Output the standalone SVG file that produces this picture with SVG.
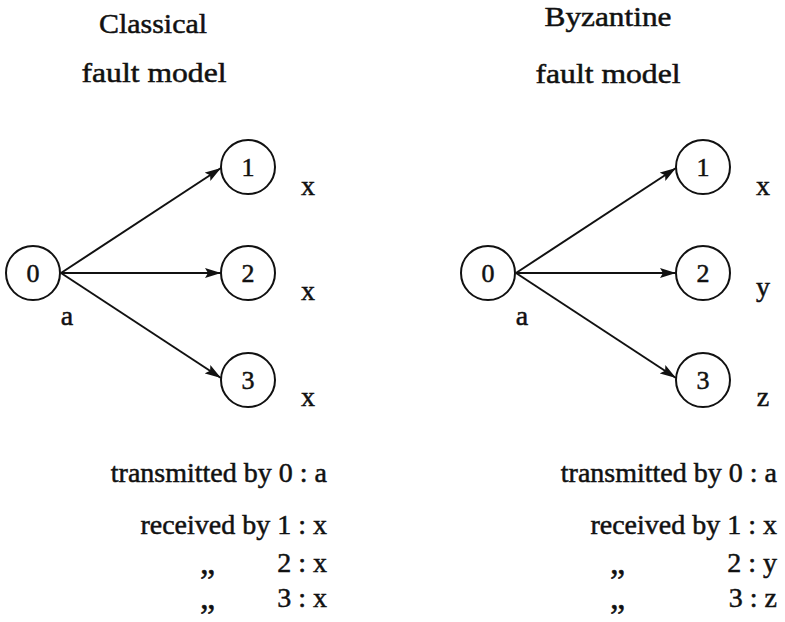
<svg xmlns="http://www.w3.org/2000/svg" width="785" height="622" viewBox="0 0 785 622">
<defs>
<style>
text{font-family:"Liberation Serif","DejaVu Serif",serif;font-size:28px;fill:#111;stroke:#111;stroke-width:0.5}
.t{text-anchor:middle}
.e{text-anchor:end}
.d{font-size:34px}
.n circle{fill:#fff;stroke:#111;stroke-width:2}
.n text{text-anchor:middle;font-size:26px}
.c line{stroke:#111;stroke-width:2}
</style>
<marker id="ah" viewBox="0 0 16 10" refX="16" refY="5" markerWidth="16" markerHeight="10" markerUnits="userSpaceOnUse" orient="auto">
<path d="M0,0 L16,5 L0,10 L3,5 Z" fill="#111"/>
</marker>
</defs>
<rect width="785" height="622" fill="#fff"/>

<g id="titles">
<text class="t" x="153" y="33" textLength="108" lengthAdjust="spacingAndGlyphs">Classical</text>
<text class="t" x="154" y="82" textLength="145" lengthAdjust="spacingAndGlyphs">fault model</text>
<text class="t" x="608" y="26" textLength="127" lengthAdjust="spacingAndGlyphs">Byzantine</text>
<text class="t" x="608" y="83" textLength="145" lengthAdjust="spacingAndGlyphs">fault model</text>
</g>

<g id="connectors" class="c">
<line x1="61" y1="273" x2="221" y2="168" marker-end="url(#ah)"/>
<line x1="61" y1="273" x2="221" y2="273" marker-end="url(#ah)"/>
<line x1="61" y1="273" x2="221" y2="378" marker-end="url(#ah)"/>
<line x1="516" y1="273" x2="676" y2="168" marker-end="url(#ah)"/>
<line x1="516" y1="273" x2="676" y2="273" marker-end="url(#ah)"/>
<line x1="516" y1="273" x2="676" y2="378" marker-end="url(#ah)"/>
</g>

<g id="L0" class="n"><circle cx="33" cy="273" r="27"/><text x="33" y="282">0</text></g>
<g id="L1" class="n"><circle cx="248" cy="167" r="27"/><text x="248" y="176">1</text></g>
<g id="L2" class="n"><circle cx="248" cy="273" r="27"/><text x="248" y="282">2</text></g>
<g id="L3" class="n"><circle cx="248" cy="380" r="27"/><text x="248" y="389">3</text></g>

<g id="R0" class="n"><circle cx="488" cy="273" r="27"/><text x="488" y="282">0</text></g>
<g id="R1" class="n"><circle cx="703" cy="167" r="27"/><text x="703" y="176">1</text></g>
<g id="R2" class="n"><circle cx="703" cy="273" r="27"/><text x="703" y="282">2</text></g>
<g id="R3" class="n"><circle cx="703" cy="380" r="27"/><text x="703" y="389">3</text></g>

<g id="labels">
<text class="t" x="67" y="325">a</text>
<text class="t" x="308" y="195">x</text>
<text class="t" x="308" y="300">x</text>
<text class="t" x="308" y="406">x</text>
<text class="t" x="522" y="325">a</text>
<text class="t" x="763" y="195">x</text>
<text class="t" x="763" y="296">y</text>
<text class="t" x="763" y="406">z</text>
</g>

<g id="summary-left">
<text class="e" x="327" y="482">transmitted by 0 : a</text>
<text class="e" x="327" y="534">received by 1 : x</text>
<text class="d" x="200" y="574">„</text><text class="e" x="327" y="572">2 : x</text>
<text class="d" x="200" y="609">„</text><text class="e" x="327" y="607">3 : x</text>
</g>
<g id="summary-right">
<text class="e" x="777" y="482">transmitted by 0 : a</text>
<text class="e" x="777" y="534">received by 1 : x</text>
<text class="d" x="610" y="574">„</text><text class="e" x="777" y="572">2 : y</text>
<text class="d" x="610" y="609">„</text><text class="e" x="777" y="607">3 : z</text>
</g>
</svg>
